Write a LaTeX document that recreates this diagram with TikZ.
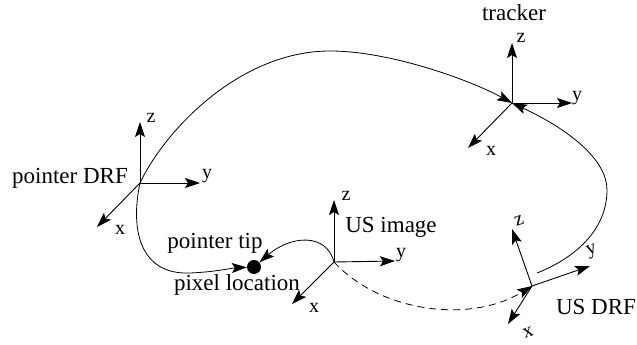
\documentclass[tikz,border=0pt]{standalone}
\usepackage{fontspec}
\setmainfont{Liberation Serif}
\usetikzlibrary{arrows.meta}
\begin{document}
\begin{tikzpicture}[x=1pt,y=-1pt,
  ax/.style={line width=0.9pt,-{Stealth[length=15pt,width=10pt,inset=3pt]}},
  tf/.style={line width=0.8pt,-{Stealth[length=15pt,width=10pt,inset=3pt]}},
  dashtf/.style={tf,dash pattern=on 7pt off 5pt},
  lbl/.style={font=\fontsize{23}{25}\selectfont,inner sep=0pt,anchor=base},
  axl/.style={font=\fontsize{20}{22}\selectfont,inner sep=0pt,anchor=base},
  dotn/.style={circle,fill=black,minimum size=14pt,inner sep=0pt}]
\useasboundingbox (0,0) rectangle (637,345);
% frame origins
\coordinate (P) at (140,183);
\coordinate (T) at (512,103);
\coordinate (U) at (334,262);
\coordinate (R) at (532,286);
% axis tips
\coordinate (Pz) at (140,122); \coordinate (Py) at (200,183); \coordinate (Px) at (97,227);
\coordinate (Tz) at (512,43);  \coordinate (Ty) at (572,103); \coordinate (Tx) at (468,148);
\coordinate (Uz) at (334,200); \coordinate (Uy) at (395,261); \coordinate (Ux) at (292,304);
\coordinate (Rz) at (512,229); \coordinate (Ry) at (590,266); \coordinate (Rx) at (508,324);
% axes
\foreach \o in {P,T,U,R}{
  \draw[ax] (\o) -- (\o z);
  \draw[ax] (\o) -- (\o y);
  \draw[ax] (\o) -- (\o x);
}
% axis labels
\node[axl] (lPz) at (151,122) {z};
\node[axl] (lPy) at (207,178) {y};
\node[axl] (lPx) at (120,234) {x};
\node[axl] (lTz) at (521,43) {z};
\node[axl] (lTy) at (577,100) {y};
\node[axl] (lTx) at (491,155) {x};
\node[axl] (lUz) at (346,200) {z};
\node[axl] (lUy) at (401,257) {y};
\node[axl] (lUx) at (314,312) {x};
\node[axl,anchor=center,rotate=19] (lRz) at (519,221) {z};
\node[axl,anchor=center,rotate=19] (lRy) at (592,252) {y};
\node[axl,anchor=center,rotate=19] (lRx) at (528,333) {x};
% frame labels
\node[lbl] (nP) at (70,183) {pointer DRF};
\node[lbl] (nT) at (514,21) {tracker};
\node[lbl] (nU) at (391,232) {US image};
\node[lbl] (nR) at (596,314) {US DRF};
\node[lbl] (ntip) at (215,248) {pointer tip};
\node[lbl] (npix) at (237,290) {pixel location};
% dot
\node[dotn] (D) at (254,267) {};
% transformations
\draw[tf] (P) .. controls (165,130) and (240,51) .. (330,51)
              .. controls (390,51) and (470,80) .. (T);
\draw[tf] (P) .. controls (130,230) and (140,275) .. (190,273)
              .. controls (215,272) and (232,268) .. (D);
\draw[tf] (U) .. controls (326,232) and (290,236) .. (D);
\coordinate (S) at (537,273);
\draw[tf] (S) .. controls (575,258) and (607,230) .. (607,190)
              .. controls (607,160) and (570,130) .. (T);
\draw[dashtf] (U) .. controls (380,312) and (470,324) .. (R);
\end{tikzpicture}
\end{document}
